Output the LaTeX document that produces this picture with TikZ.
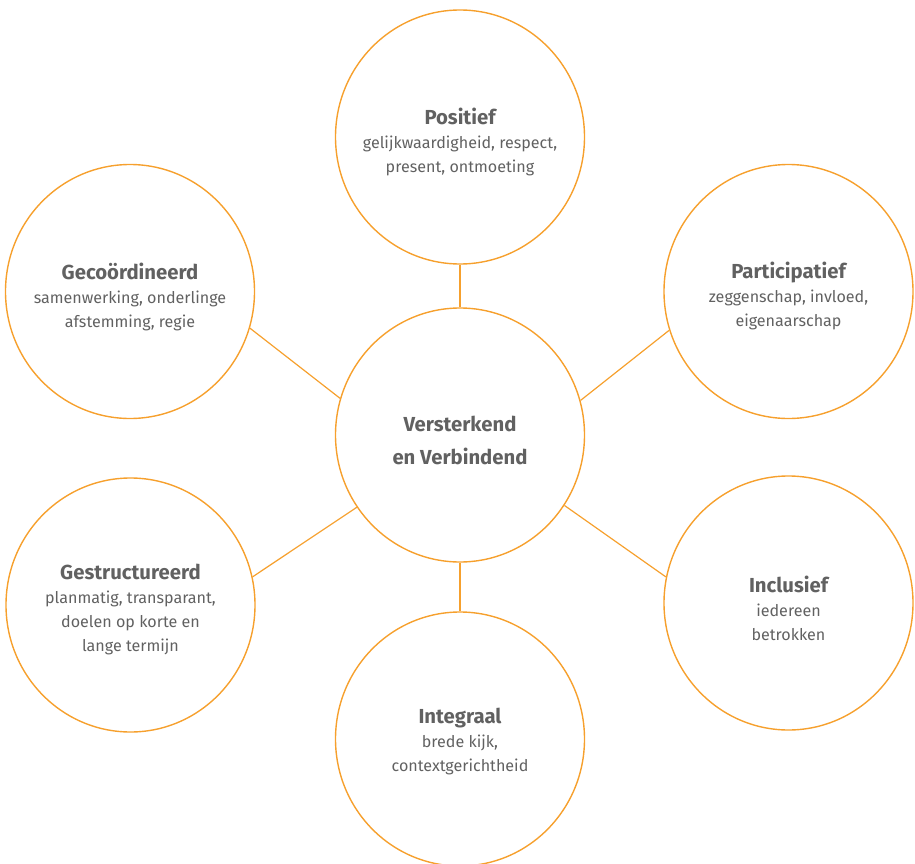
\documentclass[tikz,border=0pt]{standalone}
\usepackage{fontspec}
\setmainfont{Fira Sans}
\usetikzlibrary{shapes.geometric}
\definecolor{ring}{HTML}{F6A02D}
\definecolor{ink}{HTML}{616161}
% heading line inside a circle
\newcommand{\headline}[1]{{\fontsize{20.3}{24}\selectfont\bfseries #1}}
\begin{document}
\begin{tikzpicture}[x=1pt,y=-1pt,
  disc/.style={ellipse,draw=ring,line width=1.4pt,minimum width=249pt,minimum height=254pt,inner sep=0pt},
  link/.style={draw=ring,line width=1.2pt},
  lbl/.style={text=ink,align=center,font=\fontsize{16.1}{24}\selectfont,inner sep=0pt}]
\useasboundingbox (0,0) rectangle (915,864);

% the seven circles
\node[disc] (mid)  at (460,435) {};
\node[disc] (pos)  at (460,137) {};
\node[disc] (geco) at (130,291.5) {};
\node[disc] (part) at (788.5,291.5) {};
\node[disc] (gest) at (130.5,605) {};
\node[disc] (incl) at (788.5,603) {};
\node[disc] (intg) at (460,739) {};

% spokes
\draw[link] (pos.south) -- (mid.north);
\draw[link] (mid.south) -- (intg.north);
\draw[link] (geco.-17.4) -- (mid.163.6);
\draw[link] (part.198) -- (mid.16.1);
\draw[link] (gest.13) -- (mid.215.3);
\draw[link] (incl.168) -- (mid.-34.3);

% labels
\node[lbl,font=\fontsize{20.3}{33}\selectfont\bfseries] (midT) at (460,440) {Versterkend\\en Verbindend};
\node[lbl] (posT) at (460,142) {\headline{Positief}\\gelijkwaardigheid, respect,\\present, ontmoeting};
\node[lbl] (gecoT) at (130,297) {\headline{Gecoördineerd}\\samenwerking, onderlinge\\afstemming, regie};
\node[lbl] (partT) at (788.5,296) {\headline{Participatief}\\zeggenschap, invloed,\\eigenaarschap};
\node[lbl] (gestT) at (130.5,610) {\headline{Gestructureerd}\\planmatig, transparant,\\doelen op korte en\\lange termijn};
\node[lbl] (inclT) at (788.5,608) {\headline{Inclusief}\\iedereen\\betrokken};
\node[lbl] (intgT) at (460,742) {\headline{Integraal}\\brede kijk,\\contextgerichtheid};
\end{tikzpicture}
\end{document}
